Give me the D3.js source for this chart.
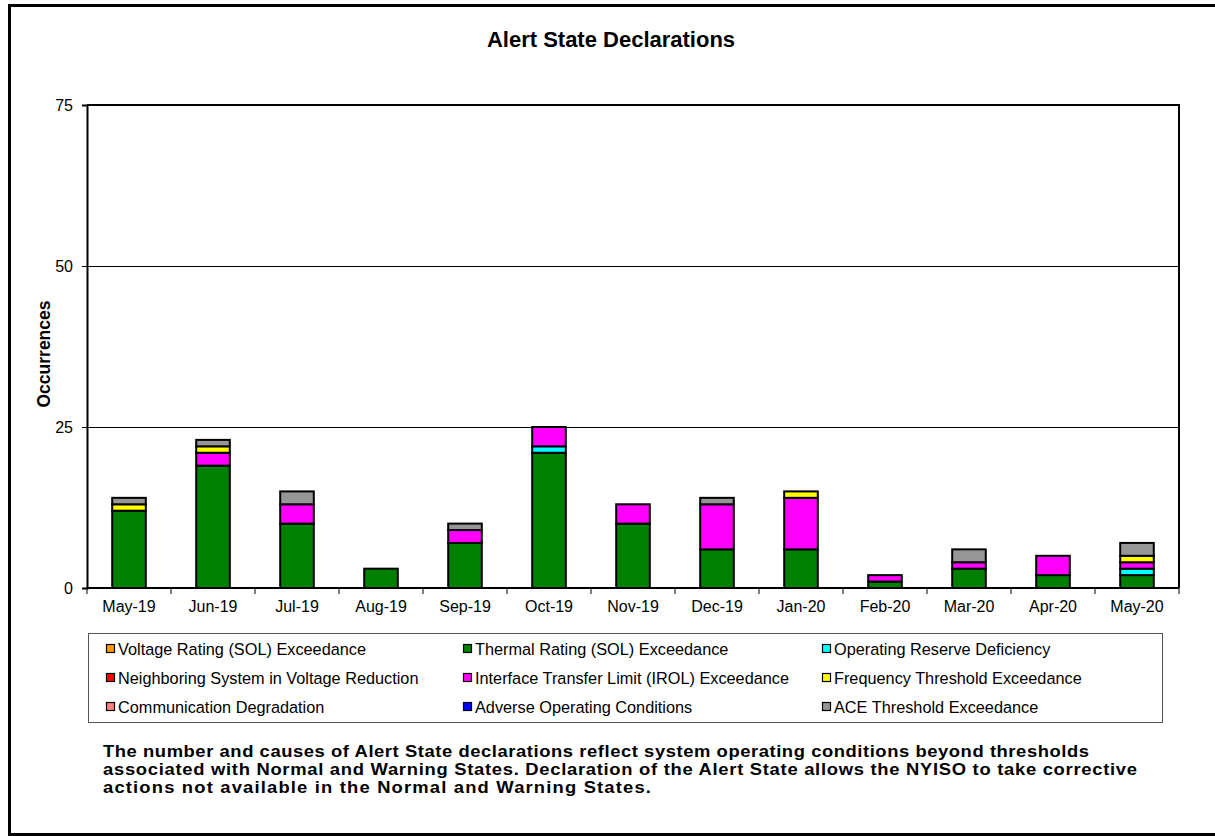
<!DOCTYPE html>
<html>
<head>
<meta charset="utf-8">
<script src="https://cdn.jsdelivr.net/npm/d3@7"></script>
<style>
  body { margin: 0; background: #fff; }
  text { font-family: Arial, "Liberation Sans", sans-serif; }
</style>
</head>
<body>
<div id="chart"></div>
<script>
const months = ["May-19","Jun-19","Jul-19","Aug-19","Sep-19","Oct-19","Nov-19","Dec-19","Jan-20","Feb-20","Mar-20","Apr-20","May-20"]

// series in legend order (row-major, 3 columns)
const seriesNames = [
  "Voltage Rating (SOL) Exceedance",
  "Thermal Rating (SOL) Exceedance",
  "Operating Reserve Deficiency",
  "Neighboring System in Voltage Reduction",
  "Interface Transfer Limit (IROL) Exceedance",
  "Frequency Threshold Exceedance",
  "Communication Degradation",
  "Adverse Operating Conditions",
  "ACE Threshold Exceedance"
]
const seriesColors = ["#FF9900","#008000","#00FFFF","#FF0000","#FF00FF","#FFFF00","#FF8080","#0000FF","#969696"]

const voltage      = [0,0,0,0,0,0,0,0,0,0,0,0,0]
const thermal      = [12,19,10,3,7,21,10,6,6,1,3,2,2]
const reserve      = [0,0,0,0,0,1,0,0,0,0,0,0,1]
const neighboring  = [0,0,0,0,0,0,0,0,0,0,0,0,0]
const irol         = [0,2,3,0,2,3,3,7,8,1,1,3,1]
const frequency    = [1,1,0,0,0,0,0,0,1,0,0,0,1]
const communication= [0,0,0,0,0,0,0,0,0,0,0,0,0]
const adverse      = [0,0,0,0,0,0,0,0,0,0,0,0,0]
const ace          = [1,1,2,0,1,0,0,1,0,0,2,0,2]

const seriesValues = [voltage, thermal, reserve, neighboring, irol, frequency, communication, adverse, ace]
const yTicks = [0, 25, 50, 75]

const noteLines = [
  "The number and causes of Alert State declarations reflect system operating conditions beyond thresholds",
  "associated with Normal and Warning States.  Declaration of the Alert State allows the NYISO to take corrective",
  "actions not available in the Normal and Warning States."
]

const width = 1215, height = 836
const plot = {left: 87, top: 105, right: 1179, bottom: 588}

const svg = d3.select("#chart").append("svg")
  .attr("width", width)
  .attr("height", height)

// outer frame
svg.append("rect")
  .attr("x", 9.5).attr("y", 5.5)
  .attr("width", 1215).attr("height", 829)
  .attr("fill", "none").attr("stroke", "#000").attr("stroke-width", 3)

svg.append("text")
  .attr("x", 611).attr("y", 47)
  .attr("text-anchor", "middle")
  .attr("font-size", 22).attr("font-weight", "bold")
  .text("Alert State Declarations")

const x = d3.scaleBand()
  .domain(months)
  .range([plot.left, plot.right])
  .paddingInner(0.6).paddingOuter(0.3)

const y = d3.scaleLinear()
  .domain([0, 75])
  .range([plot.bottom, plot.top])

// gridlines
svg.append("g").selectAll("line")
  .data(yTicks.filter(d => d > 0 && d < 75))
  .join("line")
  .attr("x1", plot.left).attr("x2", plot.right)
  .attr("y1", d => y(d) + 0.5).attr("y2", d => y(d) + 0.5)
  .attr("stroke", "#000").attr("stroke-width", 1)

// stacked bars
const table = months.map((m, i) => {
  const row = {month: m}
  seriesNames.forEach((s, j) => row[s] = seriesValues[j][i])
  return row
})
const stack = d3.stack().keys(seriesNames)(table)

svg.append("g").selectAll("g")
  .data(stack)
  .join("g")
  .attr("fill", (d, i) => seriesColors[i])
  .selectAll("rect")
  .data(d => d.filter(v => v[1] - v[0] > 0))
  .join("rect")
  .attr("x", d => x(d.data.month))
  .attr("width", x.bandwidth())
  .attr("y", d => y(d[1]))
  .attr("height", d => y(d[0]) - y(d[1]))
  .attr("stroke", "#000").attr("stroke-width", 2)

// plot frame (top, right)
svg.append("path")
  .attr("d", `M${plot.left},${plot.top}H${plot.right}V${plot.bottom}`)
  .attr("fill", "none").attr("stroke", "#000").attr("stroke-width", 2)

// left axis
const yAxis = svg.append("g")
  .attr("transform", `translate(${plot.left},0)`)
  .call(d3.axisLeft(y).tickValues(yTicks).tickSize(5).tickPadding(9))
yAxis.select(".domain").attr("stroke-width", 2)
yAxis.selectAll("text").attr("font-size", 16).attr("font-family", "Arial, 'Liberation Sans', sans-serif")

// bottom axis, ticks between categories
const xAxis = svg.append("g")
  .attr("transform", `translate(0,${plot.bottom})`)
xAxis.append("line")
  .attr("x1", plot.left).attr("x2", plot.right)
  .attr("stroke", "#000").attr("stroke-width", 2)
const step = x.step()
xAxis.selectAll(".tk")
  .data(d3.range(months.length + 1))
  .join("line")
  .attr("class", "tk")
  .attr("x1", i => plot.left + i * step).attr("x2", i => plot.left + i * step)
  .attr("y1", 0).attr("y2", 6)
  .attr("stroke", "#000")
xAxis.selectAll(".lbl")
  .data(months)
  .join("text")
  .attr("class", "lbl")
  .attr("x", d => x(d) + x.bandwidth() / 2)
  .attr("y", 24)
  .attr("text-anchor", "middle")
  .attr("font-size", 16)
  .text(d => d)

svg.append("text")
  .attr("transform", "translate(50,354) rotate(-90)")
  .attr("text-anchor", "middle")
  .attr("font-size", 17.5).attr("font-weight", "bold")
  .text("Occurrences")

// legend
const legend = svg.append("g")
legend.append("rect")
  .attr("x", 88.5).attr("y", 633.5)
  .attr("width", 1074).attr("height", 89)
  .attr("fill", "#fff").attr("stroke", "#555").attr("stroke-width", 1)

const colX = [106, 463, 822]
const rowY = [649, 678, 707]
const items = legend.selectAll(".item")
  .data(seriesNames)
  .join("g")
  .attr("class", "item")
  .attr("transform", (d, i) => `translate(${colX[i % 3]},${rowY[Math.floor(i / 3)]})`)
items.append("rect")
  .attr("x", 0.5).attr("y", -4.5)
  .attr("width", 8).attr("height", 8)
  .attr("fill", (d, i) => seriesColors[i])
  .attr("stroke", "#000").attr("stroke-width", 1.2)
items.append("text")
  .attr("x", 12).attr("y", 6)
  .attr("font-size", 16.3)
  .text(d => d)

// note: glyphs a little wide, first lines justified
const noteScale = 1.15
const noteWidths = [986, 1034, 548]
svg.append("g")
  .attr("transform", `translate(103,0) scale(${noteScale},1)`)
  .selectAll("text")
  .data(noteLines)
  .join("text")
  .attr("x", 0)
  .attr("y", (d, i) => 757 + i * 18)
  .attr("font-size", 16).attr("font-weight", "bold")
  .attr("textLength", (d, i) => noteWidths[i] / noteScale)
  .attr("lengthAdjust", "spacing")
  .text(d => d)
</script>
</body>
</html>
